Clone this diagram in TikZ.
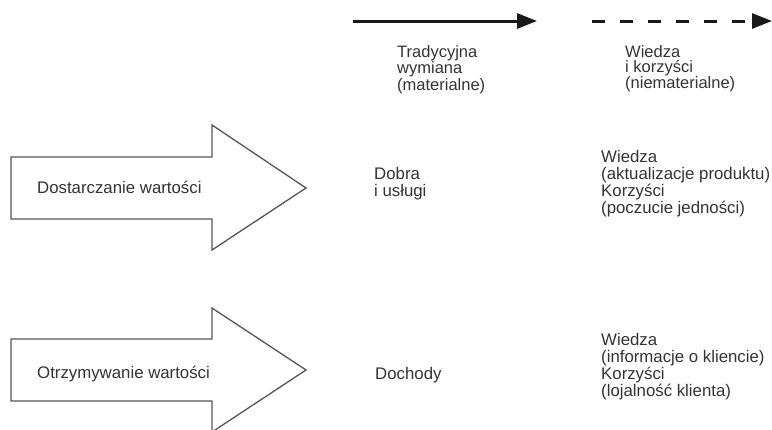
\documentclass[tikz,border=0pt]{standalone}
\usepackage{fontspec}
\setmainfont{Liberation Sans}
\usetikzlibrary{arrows.meta, positioning}

\definecolor{inkgray}{HTML}{333333}
\definecolor{edgegray}{HTML}{555555}

\tikzset{
  label/.style={anchor=north west, align=left, inner sep=0pt, text=inkgray,
    font=\fontsize{16.8}{17}\selectfont},
  toplabel/.style={label, font=\fontsize{16.5}{15}\selectfont},
  bigarrow/.style={draw=edgegray, line width=1.3pt, fill=white, line join=miter},
  flow/.style={line width=3pt, black!90, -{Triangle[length=20pt, width=15pt]}},
}

\begin{document}
\begin{tikzpicture}[x=1pt, y=-1pt]
				\useasboundingbox (0,0) rectangle (772,429);

				\coordinate (solidA) at (353,21);
				\coordinate (solidB) at (537,21);
				\coordinate (dashA) at (592,21);
				\coordinate (dashB) at (772,21);
				\draw[flow] (solidA) -- (solidB);
				\draw[flow, dash pattern=on 13pt off 15pt] (dashA) -- (dashB);

				\node[toplabel] (tradycyjna) at (397,57-11.7) {Tradycyjna\\wymiana\\(materialne)};
				\node[toplabel] (niemat) at (625,57-11.7) {Wiedza\\i korzyści\\(niematerialne)};

				\draw[bigarrow] (11,157) -- (212,157) -- (212,125) -- (306,188)
				-- (212,250) -- (212,219) -- (11,219) -- cycle;
				\node[label, anchor=base west] (dostarczanie) at (37,193) {Dostarczanie wartości};

				\draw[bigarrow] (11,339) -- (212,339) -- (212,308) -- (306,370)
				-- (212,432) -- (212,401) -- (11,401) -- cycle;
				\node[label, anchor=base west] (otrzymywanie) at (37,378) {Otrzymywanie wartości};

				\node[label] (dobra) at (374,179-11.7) {Dobra\\i usługi};
				\node[label, anchor=base west] (dochody) at (375,379) {Dochody};

				\node[label] (wiedzaA) at (601,162-11.7) {Wiedza\\(aktualizacje produktu)\\Korzyści\\(poczucie jedności)};
				\node[label] (wiedzaB) at (601,345-11.7) {Wiedza\\(informacje o kliencie)\\Korzyści\\(lojalność klienta)};

\end{tikzpicture}
\end{document}
